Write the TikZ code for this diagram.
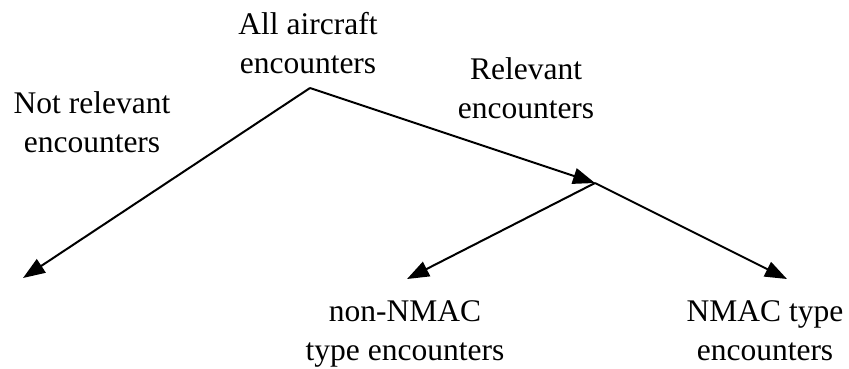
\documentclass[tikz,border=0pt]{standalone}
\usepackage{fontspec}
\setmainfont{Liberation Serif}
\usetikzlibrary{arrows.meta}
\begin{document}
\begin{tikzpicture}[x=1pt,y=1pt,
  lbl/.style={align=center,inner sep=0pt,anchor=base,font=\fontsize{31.5}{39}\selectfont},
  conn/.style={line width=2pt,-{Triangle[length=22pt,width=16pt]}}]
\useasboundingbox (0,0) rectangle (849,-368);
\node[lbl] (all) at (308,-73) {All aircraft\\encounters};
\node[lbl] (notrel) at (92,-152) {Not relevant\\encounters};
\node[lbl] (rel) at (526,-118) {Relevant\\encounters};
\node[lbl] (non) at (405,-360) {non-NMAC\\type encounters};
\node[lbl] (nmac) at (765,-360) {NMAC type\\encounters};
\coordinate (top) at (310,-88);
\coordinate (junc) at (595,-183);
\coordinate (lefttip) at (23,-278);
\coordinate (midtip) at (407,-279);
\coordinate (righttip) at (787,-279);
\draw[conn] (top) -- (lefttip);
\draw[conn] (top) -- (junc);
\draw[conn] (junc) -- (midtip);
\draw[conn] (junc) -- (righttip);
\end{tikzpicture}
\end{document}
